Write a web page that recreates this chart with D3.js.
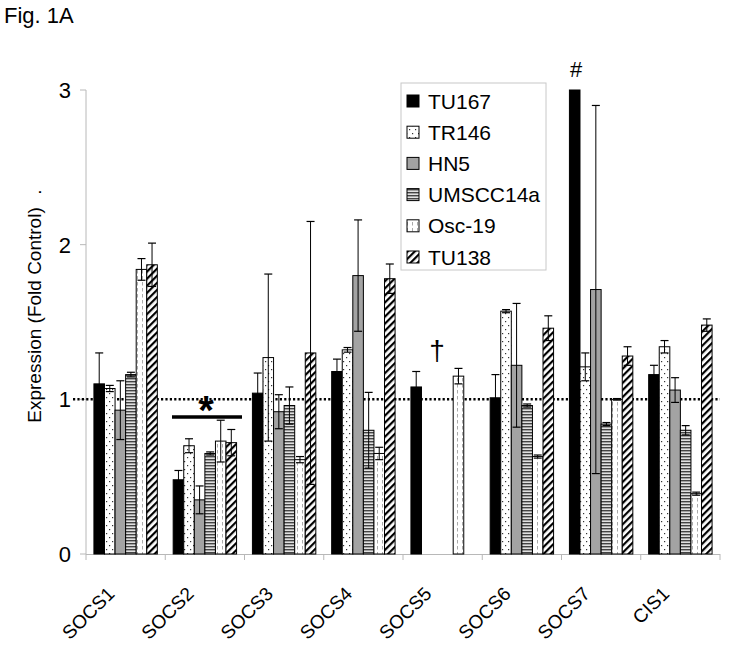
<!DOCTYPE html>
<html><head><meta charset="utf-8">
<script src="https://cdn.jsdelivr.net/npm/d3@7"></script>
<style>body{margin:0;background:#fff}svg{display:block}text{font-family:"Liberation Sans",Arial,sans-serif}</style>
</head><body><svg id="c" width="729" height="647"></svg>
<script>
const categories = ["SOCS1","SOCS2","SOCS3","SOCS4","SOCS5","SOCS6","SOCS7","CIS1"];
const seriesNames = ["TU167","TR146","HN5","UMSCC14a","Osc-19","TU138"];
const TU167     = [1.10, 0.48, 1.04, 1.18, 1.08, 1.01, 3.00, 1.16];
const TU167Err  = [0.20, 0.06, 0.13, 0.08, 0.10, 0.15, 0, 0.06];
const TR146     = [1.07, 0.70, 1.27, 1.32, null, 1.57, 1.21, 1.34];
const TR146Err  = [0.02, 0.045, 0.54, 0.015, null, 0.01, 0.09, 0.04];
const HN5       = [0.93, 0.35, 0.92, 1.80, null, 1.22, 1.71, 1.06];
const HN5Err    = [0.19, 0.09, 0.11, 0.36, null, 0.40, 1.19, 0.08];
const UMSCC14a  = [1.16, 0.65, 0.96, 0.80, null, 0.96, 0.84, 0.80];
const UMSCC14aErr=[0.015, 0.01, 0.12, 0.245, null, 0.01, 0.01, 0.03];
const Osc19     = [1.84, 0.73, 0.61, 0.65, 1.15, 0.63, 1.00, 0.39];
const Osc19Err  = [0.07, 0.135, 0.02, 0.04, 0.05, 0.01, 0.005, 0.01];
const TU138     = [1.87, 0.72, 1.30, 1.78, null, 1.46, 1.28, 1.48];
const TU138Err  = [0.14, 0.085, 0.85, 0.095, null, 0.08, 0.06, 0.04];
const yTicks = [0, 1, 2, 3];

const values = [TU167, TR146, HN5, UMSCC14a, Osc19, TU138];
const errors = [TU167Err, TR146Err, HN5Err, UMSCC14aErr, Osc19Err, TU138Err];

const svg = d3.select("#c");
const defs = svg.append("defs");
// patterns
const p1 = defs.append("pattern").attr("id","pTR").attr("patternUnits","userSpaceOnUse").attr("width",6).attr("height",8);
p1.append("rect").attr("width",6).attr("height",8).attr("fill","#fff");
p1.append("rect").attr("x",1).attr("y",1).attr("width",1.2).attr("height",1.2).attr("fill","#333");
p1.append("rect").attr("x",4).attr("y",5).attr("width",1.2).attr("height",1.2).attr("fill","#333");
const p2 = defs.append("pattern").attr("id","pUM").attr("patternUnits","userSpaceOnUse").attr("width",4).attr("height",3);
p2.append("rect").attr("width",4).attr("height",3).attr("fill","#e0e0e0");
p2.append("rect").attr("y",0).attr("width",4).attr("height",1.4).attr("fill","#444");
const p3 = defs.append("pattern").attr("id","pOS").attr("patternUnits","userSpaceOnUse").attr("width",5).attr("height",6);
p3.append("rect").attr("width",5).attr("height",6).attr("fill","#fff");
p3.append("rect").attr("x",2).attr("y",0).attr("width",1).attr("height",3.5).attr("fill","#aaa");
const p4 = defs.append("pattern").attr("id","pTU").attr("patternUnits","userSpaceOnUse").attr("width",5).attr("height",5).attr("patternTransform","rotate(45)");
p4.append("rect").attr("width",5).attr("height",5).attr("fill","#fff");
p4.append("rect").attr("x",0).attr("width",2.2).attr("height",5).attr("fill","#000");

const fills = ["#000","url(#pTR)","#a3a3a3","url(#pUM)","url(#pOS)","url(#pTU)"];

const x0 = d3.scaleBand().domain(categories).range([86, 720]).paddingInner(0).paddingOuter(0);
const x1 = d3.scaleBand().domain(seriesNames).range([0, x0.bandwidth()*0.8]);
const off = x0.bandwidth()*0.1;
const y = d3.scaleLinear().domain([0,3]).range([554, 90]);

// title
svg.append("text").attr("x",4).attr("y",23).attr("font-size",22).text("Fig. 1A");

// axes
const axisColor = "#b8b8b8";
svg.append("line").attr("x1",86).attr("x2",86).attr("y1",y(3)).attr("y2",y(0)).attr("stroke",axisColor);
yTicks.forEach(t=>{
  svg.append("line").attr("x1",80).attr("x2",86).attr("y1",y(t)).attr("y2",y(t)).attr("stroke",axisColor);
  svg.append("text").attr("x",71).attr("y",y(t)+8).attr("text-anchor","end").attr("font-size",22).text(t);
});
svg.append("line").attr("x1",86).attr("x2",720).attr("y1",y(0)+0.5).attr("y2",y(0)+0.5).attr("stroke",axisColor);
categories.forEach(c=>{
  svg.append("line").attr("x1",x0(c)).attr("x2",x0(c)).attr("y1",y(0)).attr("y2",y(0)+6).attr("stroke",axisColor);
});
svg.append("line").attr("x1",720).attr("x2",720).attr("y1",y(0)).attr("y2",y(0)+6).attr("stroke",axisColor);

// y label
svg.append("text").attr("transform",`translate(41,315) rotate(-90)`).attr("text-anchor","middle").attr("font-size",19).text("Expression (Fold Control)");
svg.append("text").attr("transform",`translate(41,192) rotate(-90)`).attr("text-anchor","middle").attr("font-size",19).text(".");

// reference line
svg.append("line").attr("x1",73).attr("x2",720).attr("y1",y(1)).attr("y2",y(1)).attr("stroke","#000").attr("stroke-width",2.5).attr("stroke-dasharray","2.2,2.2");

// bars
const g = svg.append("g");
seriesNames.forEach((s,si)=>{
  categories.forEach((c,ci)=>{
    const v = values[si][ci];
    if (v==null) return;
    g.append("rect").attr("x",x0(c)+off+x1(s)).attr("y",y(v)).attr("width",x1.bandwidth()).attr("height",y(0)-y(v))
      .attr("fill",fills[si]).attr("stroke","#000").attr("stroke-width",1);
  });
});
// error bars
seriesNames.forEach((s,si)=>{
  categories.forEach((c,ci)=>{
    const v = values[si][ci], e = errors[si][ci];
    if (v==null || !e) return;
    const cx = x0(c)+off+x1(s)+x1.bandwidth()/2;
    const top = y(v+e), bot = y(v-e);
    g.append("line").attr("x1",cx).attr("x2",cx).attr("y1",top).attr("y2",bot).attr("stroke","#000").attr("stroke-width",1);
    [top,bot].forEach(yy=>g.append("line").attr("x1",cx-4).attr("x2",cx+4).attr("y1",yy).attr("y2",yy).attr("stroke","#000").attr("stroke-width",1.2));
  });
});

// annotations
svg.append("line").attr("x1",172).attr("x2",242).attr("y1",y(0.885)).attr("y2",y(0.885)).attr("stroke","#000").attr("stroke-width",3.5);
svg.append("text").attr("x",206).attr("y",424).attr("text-anchor","middle").attr("font-size",40).attr("font-weight","bold").text("*");
svg.append("text").attr("x",437).attr("y",360).attr("text-anchor","middle").attr("font-size",28).text("†");
svg.append("text").attr("x",576).attr("y",77).attr("text-anchor","middle").attr("font-size",22).text("#");

// category labels
categories.forEach(c=>{
  const cx = x0(c)+x0.bandwidth()/2 - 10;
  svg.append("text").attr("transform",`translate(${cx},595) rotate(-45)`).attr("text-anchor","end").attr("font-size",19).text(c);
});

// legend
svg.append("rect").attr("x",401).attr("y",83).attr("width",145).attr("height",187).attr("fill","#fff").attr("stroke","#c8c8c8");
seriesNames.forEach((s,i)=>{
  const yy = 101 + i*31.2;
  svg.append("rect").attr("x",407).attr("y",yy-6).attr("width",12).attr("height",12).attr("fill",fills[i]).attr("stroke","#000");
  svg.append("text").attr("x",428).attr("y",yy+7.5).attr("font-size",21).text(s);
});
</script></body></html>
